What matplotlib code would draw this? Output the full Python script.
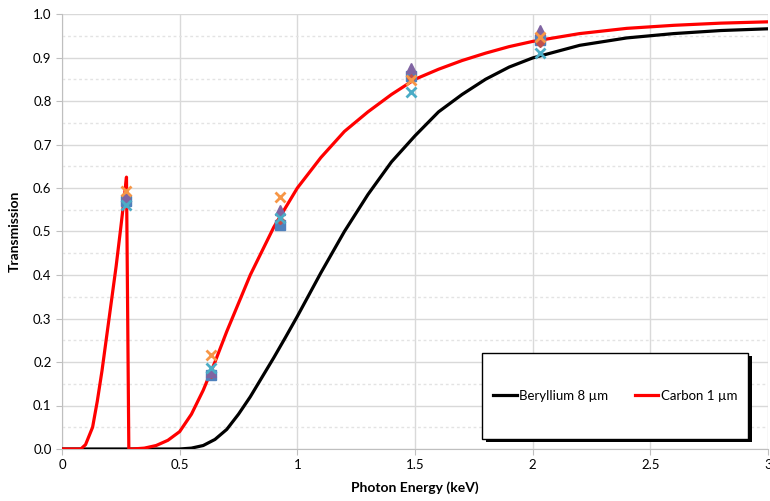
import numpy as np
import matplotlib
matplotlib.use("Agg")
import matplotlib.pyplot as plt
from matplotlib.patches import Rectangle
from matplotlib.ticker import MultipleLocator, FormatStrFormatter

plt.rcParams["font.family"] = ["Lato", "DejaVu Sans"]

# transmission curves
be_energy = [0.0, 0.5, 0.55, 0.6, 0.65, 0.7, 0.75, 0.8, 0.85, 0.9, 0.95, 1.0,
             1.05, 1.1, 1.2, 1.3, 1.4, 1.5, 1.6, 1.7, 1.8, 1.9, 2.0, 2.2,
             2.4, 2.6, 2.8, 3.0]
be_trans = [0.0, 0.0, 0.002, 0.008, 0.022, 0.045, 0.08, 0.12, 0.165, 0.21,
            0.257, 0.305, 0.355, 0.405, 0.50, 0.585, 0.66, 0.72, 0.775, 0.815,
            0.85, 0.878, 0.899, 0.928, 0.945, 0.955, 0.962, 0.966]

c_energy = [0.0, 0.08, 0.1, 0.13, 0.15, 0.17, 0.19, 0.21, 0.23, 0.25, 0.265,
            0.274, 0.284, 0.30, 0.35, 0.40, 0.45, 0.50, 0.55, 0.60, 0.65,
            0.70, 0.75, 0.80, 0.85, 0.90, 0.95, 1.0, 1.1, 1.2, 1.3, 1.4, 1.5,
            1.6, 1.7, 1.8, 1.9, 2.0, 2.2, 2.4, 2.6, 2.8, 3.0]
c_trans = [0.0, 0.0, 0.01, 0.05, 0.11, 0.18, 0.26, 0.34, 0.42, 0.51, 0.58,
           0.625, 0.0, 0.0, 0.002, 0.008, 0.02, 0.04, 0.08, 0.135, 0.20,
           0.27, 0.335, 0.40, 0.455, 0.51, 0.555, 0.60, 0.67, 0.73, 0.775,
           0.815, 0.85, 0.873, 0.893, 0.91, 0.925, 0.937, 0.955, 0.967,
           0.974, 0.979, 0.982]

# measured points
meas_energy = [0.274, 0.634, 0.926, 1.482, 2.033]
meas_blue = [0.569, 0.170, 0.515, 0.857, 0.940]
meas_red = [0.575, 0.172, 0.526, 0.853, 0.933]
meas_purple = [0.580, 0.178, 0.549, 0.876, 0.963]
meas_teal = [0.561, 0.186, 0.530, 0.821, 0.910]
meas_orange = [0.592, 0.216, 0.580, 0.848, 0.948]

fig = plt.figure(figsize=(7.7, 5.01), dpi=100)
ax = fig.add_axes([62 / 770, 52 / 501, 706 / 770, 435 / 501])

ax.plot(be_energy, be_trans, color="black", lw=2.3, label="Beryllium 8 µm", zorder=3)
ax.plot(c_energy, c_trans, color="red", lw=2.3, label="Carbon 1 µm", zorder=3)

ax.plot(meas_energy, meas_blue, ls="none", marker="s", ms=6.5, color="#4F81BD", zorder=4)
ax.plot(meas_energy, meas_red, ls="none", marker="D", ms=4.5, color="#C0504D", zorder=4)
ax.plot(meas_energy, meas_purple, ls="none", marker="^", ms=7, color="#8064A2", zorder=4)
ax.plot(meas_energy, meas_teal, ls="none", marker="x", ms=7, mew=2, color="#4BACC6", zorder=4)
ax.plot(meas_energy, meas_orange, ls="none", marker="x", ms=7, mew=2, color="#F79646", zorder=4)

ax.set_xlim(0, 3)
ax.set_ylim(0, 1)
ax.set_xticks([0, 0.5, 1, 1.5, 2, 2.5, 3])
ax.set_xticklabels(["0", "0.5", "1", "1.5", "2", "2.5", "3"])
ax.yaxis.set_major_locator(MultipleLocator(0.1))
ax.yaxis.set_minor_locator(MultipleLocator(0.05))
ax.yaxis.set_major_formatter(FormatStrFormatter("%.1f"))

ax.grid(which="major", color="#D9D9D9", lw=1, zorder=0)
ax.grid(which="minor", axis="y", color="#E3E3E3", lw=1, ls=(0, (2, 2)), zorder=0)
ax.set_axisbelow(True)

for side in ["top", "right"]:
    ax.spines[side].set_visible(False)
for side in ["left", "bottom"]:
    ax.spines[side].set_color("#BFBFBF")
ax.tick_params(which="major", length=4, color="#BFBFBF", labelsize=9.5, labelcolor="black")
ax.tick_params(which="minor", length=0)

ax.set_xlabel("Photon Energy (keV)", fontsize=10, fontweight="bold", labelpad=7)
ax.set_ylabel("Transmission", fontsize=10, fontweight="bold", labelpad=9)

# legend box with a shadow
bx, by, bw, bh = 0.595, 0.023, 0.377, 0.198
ax.add_patch(Rectangle((bx + 0.005, by - 0.008), bw, bh, transform=ax.transAxes,
                       facecolor="black", edgecolor="none", zorder=5, clip_on=False))
ax.add_patch(Rectangle((bx, by), bw, bh, transform=ax.transAxes,
                       facecolor="white", edgecolor="black", lw=1, zorder=6, clip_on=False))
leg = ax.legend(loc="center", bbox_to_anchor=(bx + bw / 2, by + bh / 2), ncol=2,
                frameon=False, fontsize=9.5, handlelength=1.8, handletextpad=0.2,
                columnspacing=2.0)
leg.set_zorder(7)

fig.savefig("out.png", dpi=100)
